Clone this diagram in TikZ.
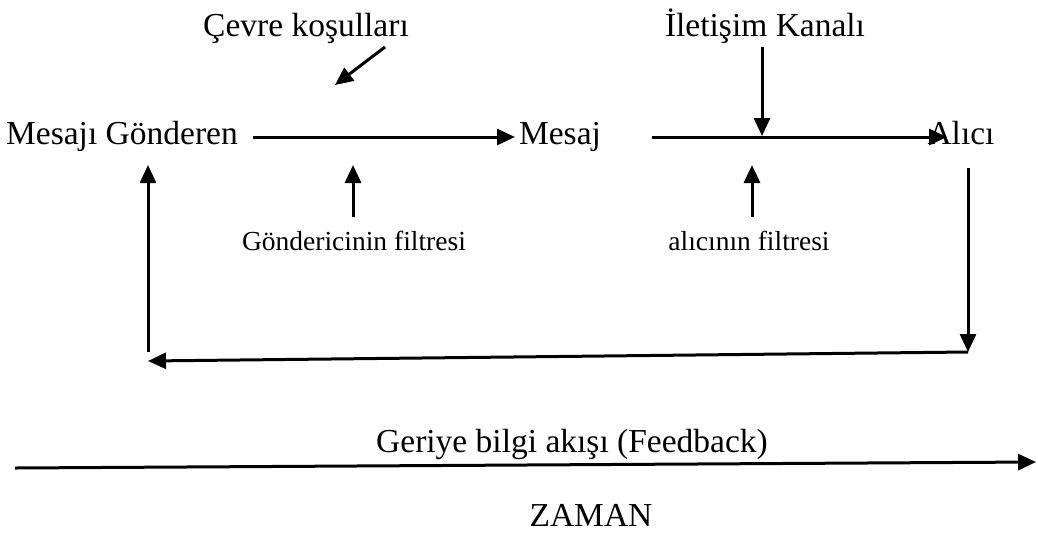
\documentclass[tikz,border=0pt]{standalone}
\usepackage{fontspec}
\setmainfont{Liberation Serif}
\usetikzlibrary{arrows.meta}
\begin{document}
\begin{tikzpicture}[x=1pt,y=-1pt,
  lbl/.style={inner sep=0pt, font=\fontsize{33.5}{40}\selectfont, anchor=base},
  small/.style={inner sep=0pt, font=\fontsize{27.5}{33}\selectfont, anchor=base},
  arr/.style={line width=3pt, -{Triangle[length=18pt,width=16pt]}},
]
\useasboundingbox (0,0) rectangle (1038,539);

% text labels
\node[lbl] (sender) at (122,144) {Mesajı Gönderen};
\node[lbl] (mesaj) at (560,144) {Mesaj};
\node[lbl] (alici) at (961,144) {Alıcı};
\node[lbl] (cevre) at (306,36) {Çevre koşulları};
\node[lbl] (kanal) at (765,36) {İletişim Kanalı};
\node[small] (gfilt) at (354,250) {Göndericinin filtresi};
\node[small] (afilt) at (749,250) {alıcının filtresi};
\node[lbl] (feedback) at (572,452) {Geriye bilgi akışı (Feedback)};
\node[lbl] (zaman) at (591,526) {ZAMAN};

% connector end points
\coordinate (s1) at (253,137);
\coordinate (m1) at (515,137);
\coordinate (m2) at (652,137);
\coordinate (a1) at (947,137);
\coordinate (c1) at (385,47);
\coordinate (c2) at (335,85);
\coordinate (k1) at (762,47);
\coordinate (k2) at (762,136);
\coordinate (g1) at (353,217);
\coordinate (g2) at (353,165);
\coordinate (f1) at (752,217);
\coordinate (f2) at (752,165);
\coordinate (r1) at (968,168);
\coordinate (r2) at (968,352);
\coordinate (l1) at (148,361);
\coordinate (l0) at (148,352);
\coordinate (l2) at (148,165);
\coordinate (z1) at (15,468);
\coordinate (z2) at (1036,462);

% message flow
\draw[arr] (s1) -- (m1);
\draw[arr] (m2) -- (a1);
\draw[arr] (c1) -- (c2);
\draw[arr] (k1) -- (k2);
\draw[arr] (g1) -- (g2);
\draw[arr] (f1) -- (f2);

% feedback loop
\draw[arr] (r1) -- (r2);
\draw[arr] (r2) -- (l1);
\draw[arr] (l0) -- (l2);

% time axis
\draw[arr] (z1) -- (z2);
\end{tikzpicture}
\end{document}
